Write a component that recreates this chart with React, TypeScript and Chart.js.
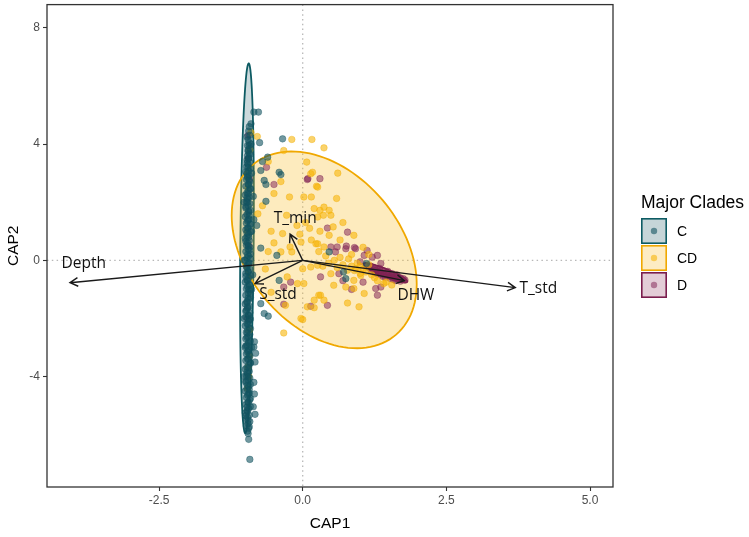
import { useEffect, useRef } from "react";
import { Chart, registerables } from "chart.js";

Chart.register(...registerables);

const cladeNames = ["C", "CD", "D"];

const cladeC: [number, number][] = [
  [-0.96,-5.88],[-0.94,-5.78],[-0.98,-5.7],[-0.95,-5.62],[-0.92,-5.55],[-0.99,-5.48],[-0.96,-5.4],[-0.93,-5.33],
  [-1.0,-5.25],[-0.97,-5.18],[-0.94,-5.1],[-0.91,-5.03],[-0.99,-4.96],[-0.95,-4.88],[-0.92,-4.8],[-0.98,-4.72],
  [-0.96,-4.64],[-0.93,-4.57],[-1.0,-4.5],[-0.97,-4.42],[-0.94,-4.35],[-0.91,-4.27],[-0.99,-4.2],[-0.95,-4.12],
  [-0.92,-4.05],[-0.98,-3.97],[-0.96,-3.9],[-0.93,-3.82],[-1.0,-3.75],[-0.97,-3.68],[-0.94,-3.6],[-0.91,-3.52],
  [-0.99,-3.45],[-0.95,-3.38],[-0.92,-3.3],[-0.98,-3.22],[-0.96,-3.15],[-0.93,-3.07],[-1.0,-3.0],[-0.97,-2.92],
  [-0.94,-2.85],[-0.91,-2.78],[-0.99,-2.7],[-0.95,-2.62],[-0.92,-2.55],[-0.98,-2.48],[-0.96,-2.4],[-0.93,-2.32],
  [-1.0,-2.25],[-0.97,-2.18],[-0.94,-2.1],[-0.91,-2.02],[-0.99,-1.95],[-0.95,-1.88],[-0.92,-1.8],[-0.98,-1.72],
  [-0.96,-1.65],[-0.93,-1.58],[-1.0,-1.5],[-0.97,-1.42],[-0.94,-1.35],[-0.91,-1.28],[-0.99,-1.2],[-0.95,-1.12],
  [-0.92,-1.05],[-0.98,-0.98],[-0.96,-0.9],[-0.93,-0.82],[-1.0,-0.75],[-0.97,-0.68],[-0.94,-0.6],[-0.91,-0.52],
  [-0.99,-0.45],[-0.95,-0.38],[-0.92,-0.3],[-0.98,-0.22],[-0.96,-0.15],[-0.93,-0.08],[-1.0,0.0],[-0.97,0.08],
  [-0.94,0.15],[-0.91,0.22],[-0.99,0.3],[-0.95,0.38],[-0.92,0.45],[-0.98,0.52],[-0.96,0.6],[-0.93,0.68],
  [-1.0,0.75],[-0.97,0.82],[-0.94,0.9],[-0.91,0.98],[-0.99,1.05],[-0.95,1.12],[-0.92,1.2],[-0.98,1.28],
  [-0.96,1.35],[-0.93,1.42],[-1.0,1.5],[-0.97,1.58],[-0.94,1.65],[-0.91,1.72],[-0.99,1.8],[-0.95,1.88],
  [-0.92,1.95],[-0.98,2.02],[-0.96,2.1],[-0.93,2.18],[-1.0,2.25],[-0.97,2.32],[-0.94,2.4],[-0.91,2.48],
  [-0.99,2.55],[-0.95,2.62],[-0.92,2.7],[-0.98,2.78],[-0.96,2.85],[-0.93,2.92],[-0.97,3.0],[-0.94,3.08],
  [-0.91,3.15],[-0.98,3.22],[-0.95,3.3],[-0.92,3.38],[-0.97,3.45],[-0.94,3.52],[-0.96,3.6],[-0.93,3.68],
  [-0.95,3.75],[-0.92,3.85],[-0.96,3.95],[-0.93,4.05],[-0.95,4.15],[-0.92,4.3],[-0.94,4.45],[-0.93,4.6],
  [-0.95,-5.5],[-0.96,-5.2],[-0.95,-4.9],[-0.94,-4.6],[-0.96,-4.3],[-0.95,-4.0],[-0.94,-3.7],[-0.96,-3.4],
  [-0.95,-3.1],[-0.94,-2.8],[-0.96,-2.5],[-0.95,-2.2],[-0.94,-1.9],[-0.96,-1.6],[-0.95,-1.3],[-0.94,-1.0],
  [-0.96,-0.7],[-0.95,-0.4],[-0.94,-0.1],[-0.96,0.2],[-0.95,0.5],[-0.94,0.8],[-0.96,1.1],[-0.95,1.4],
  [-0.94,1.7],[-0.96,2.0],[-0.95,2.3],[-0.94,2.6],[-0.96,2.9],[-0.95,3.2],[-0.94,3.5],[-0.95,3.8],
  [-0.99,-5.35],[-0.91,-4.75],[-0.99,-4.15],[-0.91,-3.55],[-0.99,-2.95],[-0.91,-2.35],[-0.99,-1.75],[-0.91,-1.15],
  [-0.99,-0.55],[-0.91,0.05],[-0.99,0.65],[-0.91,1.25],[-0.99,1.85],[-0.91,2.45],[-0.99,3.05],[-0.91,3.65],
  [-0.97,4.25],[-0.9,4.0],[-1.02,-4.0],[-1.02,-2.0],[-1.02,0.0],[-1.02,2.0],[-0.89,-3.0],[-0.89,-1.0],
  [-0.89,1.0],[-0.89,3.0],
  [-0.97,-5.05],[-0.93,-4.45],[-0.97,-3.85],[-0.93,-3.25],[-0.97,-2.65],[-0.93,-2.05],[-0.97,-1.45],[-0.93,-0.85],
  [-0.97,-0.25],[-0.93,0.35],[-0.97,0.95],[-0.93,1.55],[-0.97,2.15],[-0.93,2.75],[-0.97,3.35],[-0.93,3.95],
  [-0.84,-2.8],[-0.83,-3.5],[-0.85,-4.2],[-0.84,-4.6],[-0.83,-5.3],[-0.86,-5.04],[-0.93,-5.73],[-0.95,-5.96],
  [-0.94,-6.16],[-0.92,-6.85],[-0.85,-2.98],[-0.82,-3.2],[-0.86,2.2],[-0.87,-0.5],[-0.85,1.4],
  [-0.85,5.1],[-0.77,5.1],[-0.9,4.7],[-0.75,4.05],[-0.35,4.18],[-0.61,3.55],[-0.73,3.09],[-0.41,3.03],
  [-0.38,2.95],[-0.67,2.75],[-0.64,2.61],[-0.64,2.03],[-0.73,0.42],[-0.45,0.17],[0.46,0.29],[0.75,-0.63],
  [-0.41,-0.69],[-0.73,-1.49],[-0.67,-1.83],[-0.6,-1.92],[0.71,-0.4],[1.11,-0.11],[-0.7,3.4],[-0.8,1.2],
];

const cladeCD: [number, number][] = [
  [-0.79,4.26],[-0.19,4.16],[0.16,4.16],[0.37,3.87],[-0.33,3.78],[0.07,3.38],[0.14,2.98],[0.17,3.03],
  [0.61,3.0],[0.24,2.55],[0.26,2.52],[-0.38,2.71],[-0.23,2.18],[0.02,2.18],[0.15,2.18],[0.59,2.13],
  [-0.7,1.88],[0.2,1.78],[0.3,1.72],[0.46,1.72],[-0.78,1.6],[-0.28,1.55],[0.36,1.55],[0.53,1.15],
  [0.46,0.86],[-0.35,0.92],[-0.38,0.29],[-0.22,0.46],[-0.19,0.29],[0.23,0.57],[0.89,0.86],
  [0.26,1.49],[0.37,1.83],[0.49,1.55],[-0.03,0.63],[0.26,0.57],[0.37,0.46],[0.14,-0.23],[0.26,-0.17],
  [0.49,-0.46],[0.78,-0.34],[0.92,-0.29],[1.01,-0.52],[0.89,-0.69],[1.41,-0.8],[0.89,-0.97],[1.07,-1.14],
  [0.75,-0.92],[0.54,-0.86],[0,-0.29],[-0.09,-0.8],[0.31,-1.2],[0.98,-1.6],[-0.3,-1.55],[0.08,-1.6],
  [0.2,-1.63],[0.37,-1.37],[0.78,-1.47],[0,-2.04],[-0.33,-2.5],[-0.27,-0.57],[0.02,-0.8],[-0.03,-2.0],
  [0.2,-1.37],[0.28,-1.2],
  [0.95,-0.1],[1.0,-0.2],[1.05,-0.3],[1.1,-0.4],[0.9,-0.35],[1.15,-0.15],[0.85,-0.2],[1.2,-0.5],
  [1.0,-0.45],[0.8,0.05],[0.7,-0.15],[0.65,0.1],[1.25,-0.6],[1.3,-0.7],[1.45,-0.75],[1.55,-0.85],
  [0.6,-0.25],[0.55,0.0],[0.45,-0.1],[0.4,0.15],[0.35,-0.2],[0.28,0.3],[0.15,0.7],[0.12,1.1],
  [0.05,1.3],[-0.1,1.2],[-0.05,0.9],[0.3,1.0],[0.7,1.3],[0.65,0.7],[0.85,0.2],[1.15,0.2],
  [1.05,0.45],[-0.55,1.0],[-0.6,0.3],[-0.65,-0.3],[-0.55,-1.1],[-0.5,2.3],[-0.6,3.4],[-0.5,0.6],
  [-0.95,-3.67],[-0.94,-4.0],[-0.96,-4.4],[-0.93,-3.3],[-0.95,2.5],[-0.92,3.8],[-0.93,-2.4],[-0.96,1.0],
  [-0.9,4.4],
];

const cladeD: [number, number][] = [
  [1.1,-0.18],[1.15,-0.25],[1.18,-0.2],[1.22,-0.3],[1.25,-0.27],[1.28,-0.35],[1.3,-0.3],[1.33,-0.4],
  [1.35,-0.36],[1.38,-0.45],[1.4,-0.4],[1.42,-0.48],[1.45,-0.44],[1.47,-0.52],[1.5,-0.48],[1.52,-0.55],
  [1.55,-0.52],[1.57,-0.58],[1.6,-0.55],[1.62,-0.62],[1.65,-0.58],[1.68,-0.64],[1.7,-0.6],[1.72,-0.66],
  [1.75,-0.63],[1.78,-0.68],[1.36,-0.5],[1.44,-0.58],[1.52,-0.62],[1.58,-0.66],[1.48,-0.38],[1.56,-0.46],
  [1.64,-0.5],[1.3,-0.46],[1.4,-0.56],[1.62,-0.7],[1.7,-0.72],[1.2,-0.36],[1.26,-0.42],[1.34,-0.28],
  [-0.63,3.2],[0.09,2.81],[0.3,2.81],[-0.5,2.61],[0.08,2.78],[0.43,1.11],[0.78,0.97],[0.6,0.46],
  [0.76,0.49],[0.9,0.44],[0.49,0.46],[0.57,0.29],[0.75,0.4],[0.92,0.4],[1.07,0.17],[1.21,0.11],
  [1.36,-0.11],[1.12,0.34],[1.3,0.17],[0.31,-0.57],[0.63,-0.46],[1.27,-0.97],[1.36,-0.92],[1.3,-1.2],
  [-0.21,-0.75],[-0.33,-0.92],[0.43,-1.55],[-0.33,-1.51],[0.14,-1.58],[0.85,-1.0],[1.05,-0.75],[1.0,-0.05],
  [0.7,-0.7],[-0.95,3.5],[-0.93,2.8],[-0.96,-2.0],[-0.94,0.5],[-0.95,4.3],
];

const vectorNames = ["Depth", "T_min", "S_std", "DHW", "T_std"];
const vectorX = [-4.05, -0.22, -0.83, 1.77, 3.7];
const vectorY = [-0.77, 0.9, -0.8, -0.7, -0.94];
const vectorLabelX = [-3.81, -0.13, -0.43, 1.97, 4.1];
const vectorLabelY = [-0.27, 1.28, -1.34, -1.37, -1.13];

const ellipseCX = [-0.97, 0.374, 1.44];
const ellipseCY = [0.415, 0.36, -0.43];
const ellipseSX = [0.12, 1.61, 0.38];
const ellipseSY = [6.36, 3.385, 0.33];
const ellipseRho = [0.25, -0.35, -0.9];

const xTicks = [-2.5, 0, 2.5, 5];
const yTicks = [-4, 0, 4, 8];

const pointFill = ["rgba(18,84,96,0.6)", "rgba(246,182,10,0.6)", "rgba(128,34,84,0.52)"];
const pointEdge = ["rgba(18,84,96,0.62)", "rgba(240,172,0,0.6)", "rgba(128,34,84,0.58)"];
const ellipseFill = ["rgba(18,84,96,0.22)", "rgba(250,190,40,0.3)", "rgba(125,30,80,0.3)"];
const ellipseStroke = ["#0d5b63", "#f0a800", "#7a1d4d"];
const keyFill = ["#c6d5d8", "#fdecc4", "#e3cdd7"];

const overlay = {
  id: "overlay",
  beforeDatasetsDraw(chart: any) {
    const { ctx, chartArea: a, scales } = chart;
    const xs = scales.x, ys = scales.y;
    ctx.save();
    ctx.beginPath();
    ctx.rect(a.left, a.top, a.right - a.left, a.bottom - a.top);
    ctx.clip();
    ctx.strokeStyle = "#b8b8b8";
    ctx.lineWidth = 1.3;
    ctx.setLineDash([1.5, 3.3]);
    const x0 = xs.getPixelForValue(0);
    const y0 = ys.getPixelForValue(0);
    ctx.beginPath();
    ctx.moveTo(x0, a.top);
    ctx.lineTo(x0, a.bottom);
    ctx.moveTo(a.left, y0);
    ctx.lineTo(a.right, y0);
    ctx.stroke();
    ctx.setLineDash([]);
    for (let i = 0; i < 3; i++) {
      const r = ellipseRho[i];
      const s = Math.sqrt(1 - r * r);
      ctx.beginPath();
      for (let k = 0; k <= 120; k++) {
        const t = (k / 120) * Math.PI * 2;
        const vx = ellipseCX[i] + ellipseSX[i] * Math.cos(t);
        const vy = ellipseCY[i] + ellipseSY[i] * (r * Math.cos(t) + s * Math.sin(t));
        const px = xs.getPixelForValue(vx);
        const py = ys.getPixelForValue(vy);
        if (k === 0) ctx.moveTo(px, py);
        else ctx.lineTo(px, py);
      }
      ctx.closePath();
      ctx.fillStyle = ellipseFill[i];
      ctx.fill();
      ctx.strokeStyle = ellipseStroke[i];
      ctx.lineWidth = 1.8;
      ctx.stroke();
    }
    ctx.restore();
  },
  afterDatasetsDraw(chart: any) {
    const { ctx, chartArea: a, scales } = chart;
    const xs = scales.x, ys = scales.y;
    ctx.save();
    const ox = xs.getPixelForValue(0);
    const oy = ys.getPixelForValue(0);
    ctx.strokeStyle = "#1a1a1a";
    ctx.lineWidth = 1.4;
    for (let i = 0; i < vectorNames.length; i++) {
      const tx = xs.getPixelForValue(vectorX[i]);
      const ty = ys.getPixelForValue(vectorY[i]);
      const ang = Math.atan2(ty - oy, tx - ox);
      ctx.beginPath();
      ctx.moveTo(ox, oy);
      ctx.lineTo(tx, ty);
      const L = 9, w = 0.5;
      ctx.moveTo(tx - L * Math.cos(ang - w), ty - L * Math.sin(ang - w));
      ctx.lineTo(tx, ty);
      ctx.lineTo(tx - L * Math.cos(ang + w), ty - L * Math.sin(ang + w));
      ctx.stroke();
    }
    ctx.fillStyle = "#111";
    ctx.font = '15.5px "Open Sans"';
    ctx.textAlign = "center";
    ctx.textBaseline = "alphabetic";
    for (let i = 0; i < vectorNames.length; i++) {
      ctx.fillText(vectorNames[i], xs.getPixelForValue(vectorLabelX[i]), ys.getPixelForValue(vectorLabelY[i]));
    }
    ctx.strokeStyle = "#333";
    ctx.lineWidth = 1.3;
    ctx.strokeRect(a.left, a.top, a.right - a.left, a.bottom - a.top);
    const lx = a.right + 28;
    ctx.fillStyle = "#000";
    ctx.textAlign = "left";
    ctx.font = '17.5px "Liberation Sans", Arial, sans-serif';
    ctx.fillText("Major Clades", lx, 208);
    const top = 218, sz = 26, gap = 1;
    ctx.font = '14px "Liberation Sans", Arial, sans-serif';
    ctx.textBaseline = "middle";
    for (let i = 0; i < 3; i++) {
      const by = top + i * (sz + gap);
      ctx.fillStyle = keyFill[i];
      ctx.fillRect(lx, by, sz, sz);
      ctx.strokeStyle = ellipseStroke[i];
      ctx.lineWidth = 1.6;
      ctx.strokeRect(lx + 0.8, by + 0.8, sz - 1.6, sz - 1.6);
      ctx.beginPath();
      ctx.arc(lx + sz / 2, by + sz / 2, 3.2, 0, Math.PI * 2);
      ctx.fillStyle = pointFill[i];
      ctx.fill();
      ctx.fillStyle = "#000";
      ctx.fillText(cladeNames[i], lx + sz + 10, by + sz / 2 + 1);
    }
    ctx.restore();
  },
};

export default function App() {
  const ref = useRef<HTMLCanvasElement>(null);
  useEffect(() => {
    document.body.style.margin = "0";
    const canvas = ref.current!;
    const groups = [cladeC, cladeCD, cladeD];
    const chart = new Chart(canvas, {
      type: "scatter",
      data: {
        datasets: groups.map((g, i) => ({
          label: cladeNames[i],
          data: g.map(([x, y]) => ({ x, y })),
          backgroundColor: pointFill[i],
          borderColor: pointEdge[i],
          borderWidth: 0.6,
          pointRadius: 3.3,
        })),
      },
      options: {
        responsive: false,
        animation: false,
        devicePixelRatio: 1,
        layout: { padding: { top: 3, right: 136, bottom: 0, left: 0 } },
        plugins: { legend: { display: false }, tooltip: { enabled: false } },
        scales: {
          x: {
            type: "linear",
            min: -4.45,
            max: 5.4,
            afterBuildTicks: (s: any) => { s.ticks = xTicks.map((v) => ({ value: v })); },
            afterFit: (s: any) => { s.height = 50; s.paddingLeft = 0; s.paddingRight = 0; },
            ticks: {
              callback: (v: any) => Number(v).toFixed(1),
              color: "#4d4d4d",
              font: { size: 12, family: '"Liberation Sans", Arial, sans-serif' },
              padding: 2,
              maxRotation: 0,
            },
            grid: { drawOnChartArea: false, drawTicks: true, tickLength: 4, tickColor: "#333", tickWidth: 1.1 },
            border: { display: false },
            title: {
              display: true,
              text: "CAP1",
              color: "#000",
              font: { size: 15.5, family: '"Liberation Sans", Arial, sans-serif' },
              padding: { top: 2, bottom: 4 },
            },
          },
          y: {
            type: "linear",
            min: -7.8,
            max: 8.8,
            afterBuildTicks: (s: any) => { s.ticks = yTicks.map((v) => ({ value: v })); },
            afterFit: (s: any) => { s.width = 47; s.paddingTop = 0; s.paddingBottom = 0; },
            ticks: {
              callback: (v: any) => String(v),
              color: "#4d4d4d",
              font: { size: 12, family: '"Liberation Sans", Arial, sans-serif' },
              padding: 3,
            },
            grid: { drawOnChartArea: false, drawTicks: true, tickLength: 4, tickColor: "#333", tickWidth: 1.1 },
            border: { display: false },
            title: {
              display: true,
              text: "CAP2",
              color: "#000",
              font: { size: 15.5, family: '"Liberation Sans", Arial, sans-serif' },
              padding: { top: 4, bottom: 2 },
            },
          },
        },
      },
      plugins: [overlay],
    });
    return () => chart.destroy();
  }, []);
  return (
    <div style={{ width: 749, height: 537 }}>
      <canvas ref={ref} width={749} height={537} style={{ display: "block" }} />
    </div>
  );
}
